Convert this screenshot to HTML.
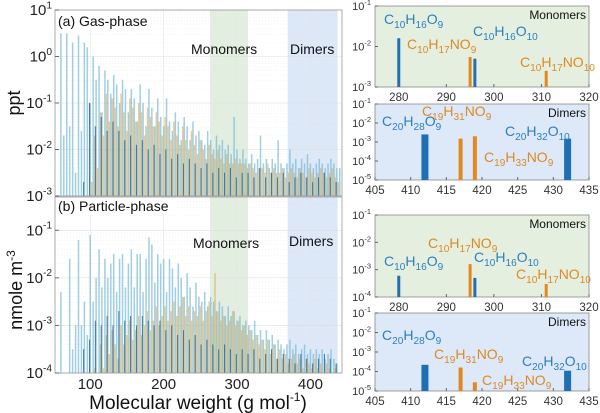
<!DOCTYPE html>
<html><head><meta charset="utf-8"><style>
body{margin:0;background:#fff;}
svg{display:block;font-family:"Liberation Sans",sans-serif;}
</style></head><body>
<svg id="chart" width="600" height="413" viewBox="0 0 600 413"></svg>
<script>
// ===== data =====
const gasBlueStart = 60;
const gasBlue = [0.5,-1.7,0.5,-1.5,0.3,-2.5,0.45,-1.6,0.3,0.2,-1.0,0.0,-0.5,-0.2,-1.2,-0.3,-0.5,-0.8,-0.4,-0.6,-1.0,-0.5,-0.7,-1.2,-0.7,-0.9,-1.4,-0.6,-1.0,-1.5,-0.7,-1.1,-1.5,-0.9,-1.3,-1.5,-0.9,-1.4,-1.6,-1.2,-1.4,-1.8,-1.3,-1.5,-1.8,-1.4,-1.7,-1.6,-1.8,-1.9,-1.6,-1.8,-2.0,-1.7,-1.9,-1.8,-2.0,-1.9,-2.1,-1.3,-2.0,-2.2,-2.0,-2.2,-2.3,-2.1,-2.3,-2.2,-1.7,-2.3,-2.2,-2.4,-2.2,-2.3,-1.8,-2.3,-2.4,-2.3,-2.0,-2.3,-2.2,-2.4,-2.2,-2.3,-2.1,-2.3,-2.4,-2.3,-2.2,-2.3,-2.4,-2.3,-2.2,-2.3,-2.4,-2.4];
const gasOrangeStart = 102;
const gasOrange = [-2.7,-1.7,-2.4,-1.2,-1.7,-0.8,-1.4,-0.9,-1.1,-1.5,-0.8,-1.2,-1.6,-0.9,-1.1,-1.4,-1.0,-1.2,-1.7,-1.1,-1.3,-1.5,-1.2,-1.4,-1.7,-1.3,-1.5,-1.8,-1.4,-1.7,-1.9,-1.5,-1.8,-2.0,-1.6,-1.9,-2.1,-1.8,-2.0,-2.2,-1.9,-2.1,-2.2,-2.0,-2.2,-2.3,-2.1,-2.3,-2.3,-2.2,-2.3,-2.3,-2.3,-2.4,-2.3,-2.4,-2.5,-2.4,-2.4,-2.5,-2.3,-2.5,-2.4,-2.5,-2.5,-2.4,-2.6,-2.5,-2.4,-2.5,-2.6,-2.4,-2.5,-2.6,-2.4,-2.5,-2.6,-2.5,-2.4,-2.5,-2.6,-2.5,-2.4,-2.6,-2.7];
const gasDarkStart = 91;
const gasDark = [-2.7,-1.0,-1.5,-1.3,-1.6,-1.4,-1.6,-1.8,-1.7,-1.9,-1.8,-2.0,-1.9,-2.1,-2.0,-2.2,-2.1,-2.3,-2.2,-2.3,-2.4,-2.3,-2.5,-2.4,-2.5,-2.4,-2.6,-2.5,-2.5,-2.6,-2.4,-2.6,-2.5,-2.6,-2.5,-2.7,-2.6,-2.5,-2.6,-2.7,-2.6,-2.5,-2.6,-2.7];
const parBlueStart = 60;
const parBlue = [-2.3,-4,-4,-1.6,-3.5,-3.0,-1.2,-3.0,-2.5,-3.2,-1.1,-2.5,-2.0,-1.4,-2.2,-1.6,-2.0,-1.7,-1.5,-2.3,-1.6,-1.5,-2.2,-1.7,-1.4,-2.2,-1.5,-1.5,-2.3,-1.6,-1.15,-1.3,-2.1,-1.5,-1.7,-1.6,-2.3,-1.6,-1.8,-2.2,-1.7,-2.0,-2.4,-1.9,-2.2,-2.6,-2.1,-2.4,-2.5,-2.3,-2.6,-2.4,-2.5,-2.7,-2.5,-2.6,-2.8,-2.6,-2.8,-2.7,-2.9,-2.8,-3.0,-2.9,-3.0,-3.1,-2.9,-3.2,-3.1,-3.3,-3.1,-3.3,-3.2,-3.4,-3.3,-3.4,-3.5,-3.4,-3.3,-3.5,-3.4,-3.6,-3.5,-3.4,-3.6,-3.5,-3.6,-3.5,-3.6,-3.5,-3.7,-3.6,-3.5,-3.7,-3.8,-4.0];
const parOrangeStart = 102;
const parOrange = [-4.0,-3.9,-4.0,-3.4,-3.9,-3.2,-3.6,-3.1,-3.4,-3.7,-3.0,-3.4,-3.2,-2.9,-3.3,-3.1,-2.8,-3.2,-3.0,-2.7,-3.1,-2.9,-2.6,-3.0,-2.8,-2.6,-2.9,-2.7,-2.5,-2.8,-2.6,-2.4,-2.8,-2.6,-2.9,-2.7,-2.8,-2.6,-2.9,-2.7,-2.5,-2.8,-1.9,-2.7,-2.9,-2.8,-3.0,-2.9,-2.7,-3.0,-2.9,-3.1,-3.0,-3.2,-3.1,-3.3,-3.2,-3.4,-3.3,-3.5,-3.3,-3.6,-3.4,-3.7,-3.5,-3.7,-3.6,-3.8,-3.7,-3.6,-3.8,-3.7,-3.9,-3.7,-3.8,-3.9,-3.7,-3.9,-3.8,-4.0,-3.8,-3.9,-4.0,-3.9,-4.0];
const parDarkStart = 91;
const parDark = [-3.5,-3.3,-2.9,-3.0,-2.8,-3.0,-2.7,-2.9,-2.8,-3.0,-2.8,-2.9,-3.0,-2.9,-3.1,-3.0,-3.2,-3.1,-3.3,-3.2,-3.4,-3.3,-3.4,-3.5,-3.4,-3.5,-3.6,-3.5,-3.6,-3.5,-3.7,-3.6,-3.5,-3.7,-3.6,-3.7,-3.8,-3.6,-3.7,-3.8,-3.7,-3.6,-3.7,-3.8];
const leftXTicks = [100,200,300,400];
// right panels
const monoMW = [280,295,296,311];
const monoColor = ["b","o","b","o"];
const monoGas = [1.6e-2,5.5e-3,5e-3,2.5e-3];
const monoPar = [6e-4,1.6e-3,5e-4,3e-4];
const dimMW = [412,417,419,432];
const dimColor = ["b","o","o","b"];
const dimGas = [2.5e-3,1.5e-3,2e-3,1.5e-3];
const dimPar = [2.2e-4,1.6e-4,2.8e-5,1.1e-4];
const monoTicks = [280,290,300,310,320];
const dimTicks = [405,410,415,420,425,430,435];

const NS="http://www.w3.org/2000/svg";
const svg=document.getElementById('chart');
function el(tag,attrs,parent){const e=document.createElementNS(NS,tag);for(const k in attrs)e.setAttribute(k,attrs[k]);(parent||svg).appendChild(e);return e;}
function sup(x,y,base,exp,size,anchor,color,name){
  const t=el('text',{x:x,y:y,'font-size':size,'text-anchor':anchor||'end',fill:color||'#222'});
  
  
  const a=el('tspan',{},t);a.textContent=base;
  const b=el('tspan',{dy:-size*0.45,'font-size':size*0.68},t);b.textContent=exp;
  return t;
}
function formula(x,y,parts,color,size,name){
  const t=el('text',{x:x,y:y,'font-size':size,fill:color});
  
  
  let shifted=false;
  parts.forEach(p=>{
    const a=el('tspan',shifted?{dy:-size*0.3}:{},t);a.textContent=p[0];
    const s=el('tspan',{dy:size*0.3,'font-size':size*0.72},t);s.textContent=p[1];
    shifted=true;
  });
}

// ===== left panels =====
const LX0=55,LX1=342,MW0=52,MW1=443;
const lx=m=>LX0+(m-MW0)/(MW1-MW0)*(LX1-LX0);
function leftPanel(top,bot,ymaxLog,yminLog,series,ticks,bandName){
  const ly=l=>top+(ymaxLog-l)/(ymaxLog-yminLog)*(bot-top);
  const g=el('g',{});
  
  
  const mb=el('rect',{x:lx(263),y:top,width:lx(315)-lx(263),height:bot-top,fill:'#e2eee0'},g);
  
  const db=el('rect',{x:lx(369),y:top,width:lx(437)-lx(369),height:bot-top,fill:'#dce8f8'},g);
  
  for(let d=Math.ceil(yminLog);d<=Math.floor(ymaxLog);d++){
    for(let k=1;k<10;k++){const l=d+Math.log10(k);if(l>ymaxLog||l<yminLog)continue;
      el('line',{x1:LX0,x2:LX1,y1:ly(l),y2:ly(l),stroke:k==1?'#ddd':'#eee','stroke-dasharray':k==1?'':'1,2','stroke-width':0.6},g);}
  }
  leftXTicks.forEach(t=>el('line',{x1:lx(t),x2:lx(t),y1:top,y2:bot,stroke:'#e4e4e4','stroke-width':0.6},g));
  series.forEach(s=>{
    s.vals.forEach((v,i)=>{
      const m=s.start+s.step*i; if(m>MW1)return;
      const y=ly(Math.max(v,yminLog));
      const r=el('rect',{x:lx(m)-s.w/2,y:y,width:s.w,height:bot-y,fill:s.c},g);
      
      
    });
  });
  el('rect',{x:LX0,y:top,width:LX1-LX0,height:bot-top,fill:'none',stroke:'#999','stroke-width':0.8},g);
  ticks.forEach(d=>{
    el('line',{x1:LX0,x2:LX0+4,y1:ly(d),y2:ly(d),stroke:'#666'},g);
    sup(LX0-3,ly(d)+5,'10',String(d),15,'end','#222','y-tick-label');
  });
  return ly;
}
leftPanel(10,196,1,-3,[
  {vals:gasBlue,start:gasBlueStart,step:4,w:1.5,c:'rgba(120,185,215,0.7)',name:'gas-light'},
  {vals:gasOrange,start:gasOrangeStart,step:4,w:1.4,c:'rgba(225,170,80,0.65)',name:'gas-orange'},
  {vals:gasDark,start:gasDarkStart,step:8,w:1.1,c:'rgba(40,100,140,0.8)',name:'gas-dark'}
],[1,0,-1,-2,-3],'gas');
leftPanel(197,373,-0.3,-4,[
  {vals:parBlue,start:parBlueStart,step:4,w:1.5,c:'rgba(120,185,215,0.7)',name:'particle-light'},
  {vals:parOrange,start:parOrangeStart,step:4,w:1.4,c:'rgba(225,170,80,0.65)',name:'particle-orange'},
  {vals:parDark,start:parDarkStart,step:8,w:1.1,c:'rgba(40,100,140,0.8)',name:'particle-dark'}
],[-1,-2,-3,-4],'particle');
leftXTicks.forEach(t=>{
  const tx=el('text',{x:lx(t),y:389,'font-size':15,'text-anchor':'middle',fill:'#222'});
  
  tx.textContent=t;
});
function txt(x,y,s,size,name,extra){const t=el('text',Object.assign({x:x,y:y,'font-size':size,fill:'#111'},extra||{}));t.textContent=s;return t;}
el('rect',{x:56,y:11,width:95,height:18,fill:'#fff'});
txt(58,26,'(a) Gas-phase',14,'panel-a-title');
el('rect',{x:56,y:198,width:120,height:16,fill:'#fff'});
txt(58,211,'(b) Particle-phase',14,'panel-b-title');
txt(191,54,'Monomers',14,'monomers-label-a');
txt(290,54,'Dimers',14,'dimers-label-a');
txt(193,248,'Monomers',14,'monomers-label-b');
txt(289,246,'Dimers',14,'dimers-label-b');
txt(20,103,'ppt',18,'y-axis-title-a',{transform:'rotate(-90 20 103)','text-anchor':'middle'});
(function(){const t=el('text',{x:22,y:290,'font-size':18,'text-anchor':'middle',fill:'#111',transform:'rotate(-90 22 290)'});

const a=el('tspan',{},t);a.textContent='nmole m';const b=el('tspan',{dy:-7,'font-size':12},t);b.textContent='-3';})();
(function(){const t=el('text',{x:198,y:409,'font-size':19,'text-anchor':'middle',fill:'#111'});

const a=el('tspan',{},t);a.textContent='Molecular weight (g mol';const b=el('tspan',{dy:-8,'font-size':12},t);b.textContent='-1';const c=el('tspan',{dy:8,'font-size':19},t);c.textContent=')';})();

// ===== right panels =====
const RX0=375,RX1=589;
const BLUE='#1f6fb5',ORANGE='#e3891c',TB='#2c7fc0',TO='#dc8a22';
function rightPanel(top,bot,ymax,ymin,xd0,xd1,mws,cols,vals,ticks,bg,label,wb,wo,name){
  const rx=m=>RX0+(m-xd0)/(xd1-xd0)*(RX1-RX0);
  const ry=v=>top+(ymax-Math.log10(v))/(ymax-ymin)*(bot-top);
  const g=el('g',{});
  el('rect',{x:RX0,y:top,width:RX1-RX0,height:bot-top,fill:bg,stroke:'#888','stroke-width':0.8},g);
  mws.forEach((m,i)=>{const y=ry(vals[i]);const w=cols[i]=='b'?wb:wo;
    const r=el('rect',{x:rx(m)-w/2,y:y,width:w,height:bot-y,fill:cols[i]=='b'?BLUE:ORANGE},g);
    });
  for(let d=ymax;d>=ymin;d--){sup(RX0-4,ry(Math.pow(10,d))+4,'10',String(d),11,'end','#333','y-tick-label');
    el('line',{x1:RX0,x2:RX0+3,y1:ry(Math.pow(10,d)),y2:ry(Math.pow(10,d)),stroke:'#666'},g);}
  ticks.forEach(t=>{const tx=el('text',{x:rx(t),y:bot+14,'font-size':11.5,'text-anchor':'middle',fill:'#333'});
    tx.textContent=t;
    el('line',{x1:rx(t),x2:rx(t),y1:bot,y2:bot-3,stroke:'#666'},g);});
  txt(RX1-3,top+13,label,12,'panel-label',{'text-anchor':'end'});
}
rightPanel(6,87,-1,-3,275,320,monoMW,monoColor,monoGas,monoTicks,'#e5efe0','Monomers',3,3,'gas-monomer-panel');
rightPanel(104,180,-1,-5,405,435,dimMW,dimColor,dimGas,dimTicks,'#dde8f8','Dimers',7,4,'gas-dimer-panel');
rightPanel(215,297,-1,-4,275,320,monoMW,monoColor,monoPar,monoTicks,'#e5efe0','Monomers',3,3,'particle-monomer-panel');
rightPanel(313,391,-1,-5,405,435,dimMW,dimColor,dimPar,dimTicks,'#dde8f8','Dimers',7,4,'particle-dimer-panel');

const F1=[["C","10"],["H","16"],["O","9"]], F2=[["C","10"],["H","17"],["NO","9"]],
 F3=[["C","10"],["H","16"],["O","10"]], F4=[["C","10"],["H","17"],["NO","10"]],
 D1=[["C","20"],["H","28"],["O","9"]], D2=[["C","19"],["H","31"],["NO","9"]],
 D3=[["C","19"],["H","33"],["NO","9"]], D4=[["C","20"],["H","32"],["O","10"]];
formula(384,24,F1,TB,14,'label-c10h16o9');
formula(407,49,F2,TO,14,'label-c10h17no9');
formula(473,36,F3,TB,14,'label-c10h16o10');
formula(520,67,F4,TO,14,'label-c10h17no10');
formula(382,126,D1,TB,14,'label-c20h28o9');
formula(422,116,D2,TO,14,'label-c19h31no9');
formula(484,162,D3,TO,14,'label-c19h33no9');
formula(505,136,D4,TB,14,'label-c20h32o10');
formula(384,266,F1,TB,14,'label-c10h16o9-p');
formula(428,248,F2,TO,14,'label-c10h17no9-p');
formula(474,262,F3,TB,14,'label-c10h16o10-p');
formula(516,279,F4,TO,14,'label-c10h17no10-p');
formula(382,340,D1,TB,14,'label-c20h28o9-p');
formula(434,359,D2,TO,14,'label-c19h31no9-p');
formula(482,385,D3,TO,14,'label-c19h33no9-p');
formula(522,366,D4,TB,14,'label-c20h32o10-p');
</script>
</body></html>
